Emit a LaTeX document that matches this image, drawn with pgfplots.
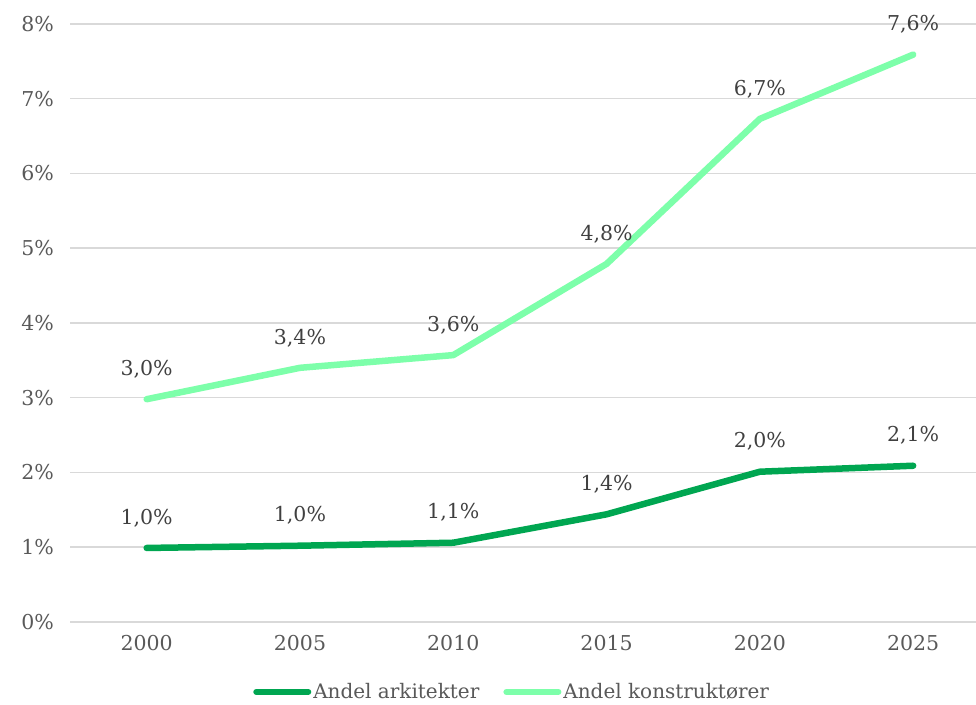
\documentclass[border=0pt]{standalone}
\usepackage{fontspec}
\setmainfont{DejaVu Serif}
\usepackage{pgfplots}
\pgfplotsset{compat=1.18}
\usepackage{pgfplotstable}
\definecolor{darkg}{RGB}{0,166,81}
\definecolor{lightg}{RGB}{125,255,170}
\definecolor{gridc}{RGB}{217,217,217}
\definecolor{tickc}{RGB}{89,89,89}
\definecolor{labc}{RGB}{64,64,64}

\pgfplotstableread{
x y label
0 0.99 {1,0}
1 1.02 {1,0}
2 1.06 {1,1}
3 1.44 {1,4}
4 2.01 {2,0}
5 2.09 {2,1}
}\arkitekter

\pgfplotstableread{
x y label
0 2.98 {3,0}
1 3.40 {3,4}
2 3.57 {3,6}
3 4.79 {4,8}
4 6.73 {6,7}
5 7.59 {7,6}
}\konstruktorer

\begin{document}
\begin{tikzpicture}
\begin{axis}[
  width=906pt, height=598pt, scale only axis,
  xmin=-0.5, xmax=5.41, ymin=0, ymax=8,
  xtick={0,1,2,3,4,5},
  xticklabels={2000,2005,2010,2015,2020,2025},
  ytick={0,1,2,3,4,5,6,7,8},
  yticklabels={0\%,1\%,2\%,3\%,4\%,5\%,6\%,7\%,8\%},
  axis line style={draw=none},
  major tick length=0pt,
  ymajorgrids,
  grid style={gridc, line width=1.5pt},
  tick label style={font=\fontsize{20.5}{24}\selectfont, text=tickc},
  yticklabel style={anchor=east, inner sep=0pt, xshift=-16pt},
  xticklabel style={anchor=north, inner sep=0pt, yshift=-13pt},
  clip=false,
  legend columns=2,
  legend style={at={(rel axis cs:0.488,-0.117)}, anchor=center, draw=none,
    font=\fontsize{20}{24}\selectfont, text=tickc,
    /tikz/every even column/.append style={column sep=22pt}},
  legend image code/.code={\draw[#1, line width=6pt, line cap=round] (0pt,0pt) -- (52pt,0pt);},
  nodes near coords={\pgfplotspointmeta\%},
  point meta=explicit symbolic,
  nodes near coords style={anchor=center, yshift=30pt, font=\fontsize{20.5}{24}\selectfont, text=labc},
]
\addplot[darkg, line width=6.5pt, line cap=round, line join=round] table[x=x, y=y, meta=label] {\arkitekter};
\addlegendentry{Andel arkitekter}
\addplot[lightg, line width=6.5pt, line cap=round, line join=round] table[x=x, y=y, meta=label] {\konstruktorer};
\addlegendentry{Andel konstruktører}
\coordinate (bl) at (rel axis cs:-0.0773,-0.1388);
\coordinate (tr) at (rel axis cs:1,1.0401);
\end{axis}
\pgfresetboundingbox
\path[use as bounding box] (bl) rectangle (tr);
\end{tikzpicture}
\end{document}
